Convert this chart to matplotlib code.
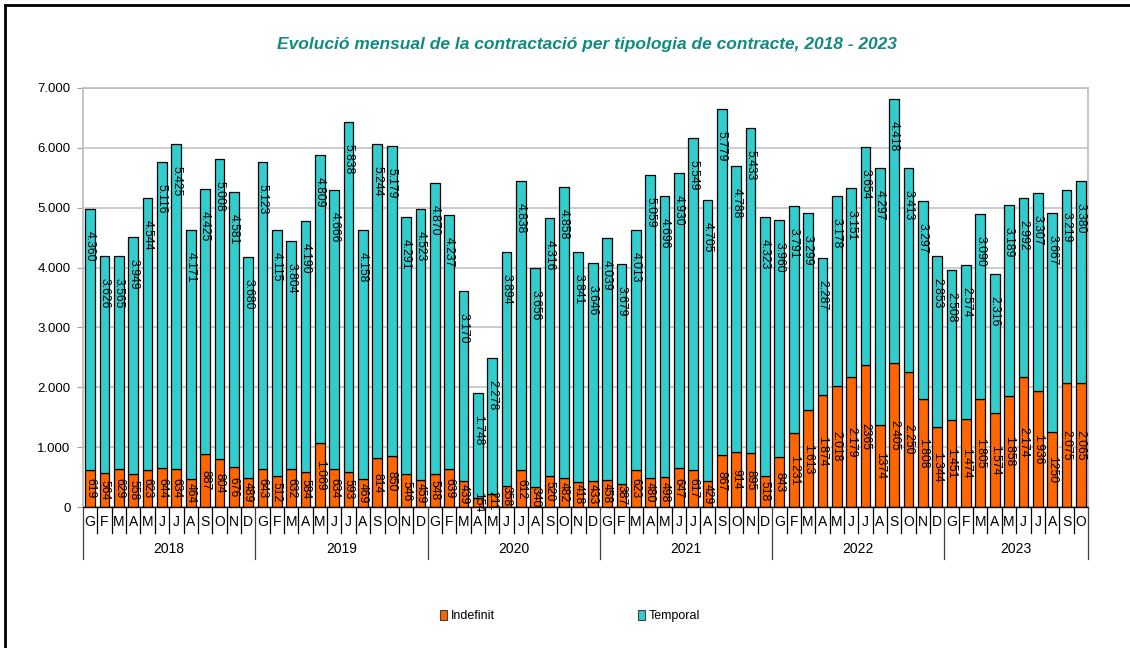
import matplotlib
matplotlib.use("Agg")
import matplotlib.pyplot as plt
import matplotlib.transforms as mtransforms
from matplotlib.patches import Patch
from matplotlib.lines import Line2D

plt.rcParams['font.family'] = ['Liberation Sans', 'DejaVu Sans']

years = ['2018', '2019', '2020', '2021', '2022', '2023']
months_per_year = [12, 12, 12, 12, 12, 10]
month_letters = ['G', 'F', 'M', 'A', 'M', 'J', 'J', 'A', 'S', 'O', 'N', 'D']

indefinit = [
    619, 564, 629, 558, 623, 644, 634, 464, 887, 804, 676, 489,
    643, 512, 632, 584, 1069, 634, 593, 469, 814, 850, 546, 459,
    548, 639, 439, 154, 211, 358, 612, 340, 520, 482, 418, 433,
    458, 387, 623, 480, 498, 647, 617, 429, 867, 914, 895, 518,
    843, 1231, 1613, 1874, 2018, 2179, 2365, 1374, 2405, 2250, 1808, 1344,
    1451, 1474, 1805, 1574, 1858, 2174, 1936, 1250, 2075, 2065,
]
temporal = [
    4360, 3626, 3565, 3949, 4544, 5116, 5425, 4171, 4425, 5008, 4581, 3680,
    5123, 4115, 3804, 4190, 4809, 4666, 5838, 4158, 5244, 5179, 4291, 4523,
    4870, 4237, 3170, 1748, 2278, 3894, 4838, 3656, 4316, 4858, 3841, 3646,
    4039, 3679, 4013, 5059, 4696, 4930, 5549, 4705, 5779, 4788, 5433, 4323,
    3960, 3791, 3299, 2287, 3178, 3151, 3654, 4297, 4418, 3413, 3297, 2853,
    2508, 2574, 3090, 2316, 3189, 2992, 3307, 3667, 3219, 3380,
]
# values whose labels were shown without thousands separator in the source
plain_labels = [2365, 1374, 1250]

y_ticks = [0, 1000, 2000, 3000, 4000, 5000, 6000, 7000]

ORANGE = '#FF6600'
TEAL = '#33CCCC'
TITLE_C = '#138A80'


def fmt(v, plain=False):
    if plain:
        return str(v)
    return f"{v:,}".replace(',', '.')


W, H = 1130, 648
fig = plt.figure(figsize=(W / 100, H / 100), dpi=100)
ax = fig.add_axes([83 / W, 1 - 507 / H, (1088 - 83) / W, (507 - 88) / H])

n = len(indefinit)
x = list(range(n))
totals = [a + b for a, b in zip(indefinit, temporal)]

ax.bar(x, indefinit, width=0.68, color=ORANGE, edgecolor='black', linewidth=0.9, zorder=3)
ax.bar(x, temporal, bottom=indefinit, width=0.68, color=TEAL, edgecolor='black', linewidth=0.9, zorder=3)

ax.set_xlim(-0.5, n - 0.5)
ax.set_ylim(0, 7000)
ax.set_yticks(y_ticks)
ax.set_yticklabels([fmt(v) for v in y_ticks], fontsize=9.5)
ax.tick_params(axis='y', length=4, color='#A0A0A0', pad=5)
ax.grid(axis='y', color='#C8C8C8', linewidth=1.3, zorder=0)
ax.set_axisbelow(True)
for s in ['left', 'top', 'right']:
    ax.spines[s].set_color('#C0C0C0')
    ax.spines[s].set_linewidth(1.3)
ax.spines['bottom'].set_color('black')
ax.spines['bottom'].set_linewidth(1.0)
ax.spines['bottom'].set_zorder(5)

# data labels
for i in range(n):
    iv, tv = indefinit[i], temporal[i]
    ax.text(i, iv / 2, fmt(iv, iv in plain_labels), rotation=270, ha='center', va='center',
            fontsize=8.8, zorder=6)
    ax.annotate(fmt(tv, tv in plain_labels), xy=(i, totals[i]), xytext=(0, -22),
                textcoords='offset pixels', rotation=270, ha='center', va='top',
                fontsize=8.8, zorder=6)

# category axis (months + years)
ax.set_xticks([])
trans = mtransforms.blended_transform_factory(ax.transData, fig.transFigure)
y0 = 1 - 507 / H
y_month_sep = 1 - 533 / H
y_year_sep = 1 - 559 / H
y_month_txt = 1 - 522 / H
y_year_txt = 1 - 549 / H

idx = 0
for yr, cnt in zip(years, months_per_year):
    start = idx
    for m in range(cnt):
        ax.text(idx, y_month_txt, month_letters[m], transform=trans, ha='center', va='center',
                fontsize=10, clip_on=False)
        if m > 0:
            fig.add_artist(Line2D([idx - 0.5, idx - 0.5], [y0, y_month_sep], transform=trans,
                                  color='black', linewidth=0.9))
        idx += 1
    fig.add_artist(Line2D([start - 0.5, start - 0.5], [y0, y_year_sep], transform=trans,
                          color='#404040', linewidth=0.9))
    ax.text((start + idx - 1) / 2, y_year_txt, yr, transform=trans, ha='center', va='center',
            fontsize=10, clip_on=False)
fig.add_artist(Line2D([idx - 0.5, idx - 0.5], [y0, y_year_sep], transform=trans,
                      color='#404040', linewidth=0.9))

# title
fig.text(587 / W, 1 - 44 / H,
         'Evolució mensual de la contractació per tipologia de contracte, 2018 - 2023',
         ha='center', va='center', fontsize=12.5, fontweight='bold', fontstyle='italic',
         color=TITLE_C)

# legend
handles = [Patch(facecolor=ORANGE, edgecolor='#404040', linewidth=0.8, label='Indefinit'),
           Patch(facecolor=TEAL, edgecolor='#404040', linewidth=0.8, label='Temporal')]
fig.legend(handles=handles, loc='center', bbox_to_anchor=(570 / W, 1 - 616 / H), ncol=2,
           frameon=False, fontsize=9, handlelength=0.55, handleheight=0.9,
           handletextpad=0.25, columnspacing=11.5)

# outer border (left and top)
fig.add_artist(Line2D([4.5 / W, 4.5 / W], [0, 1 - 5 / H], transform=fig.transFigure,
                      color='black', linewidth=2.0))
fig.add_artist(Line2D([4.5 / W, 1], [1 - 5 / H, 1 - 5 / H], transform=fig.transFigure,
                      color='black', linewidth=2.0))

fig.savefig('out.png', dpi=100, facecolor='white')
